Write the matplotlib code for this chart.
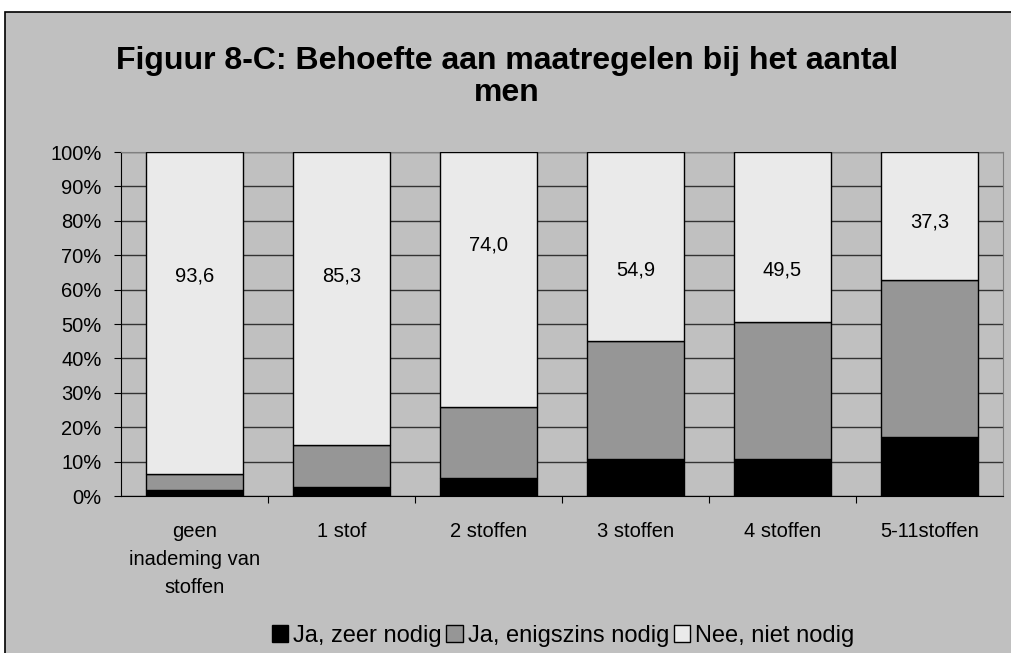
import matplotlib
matplotlib.use("Agg")
import matplotlib.pyplot as plt
from matplotlib.patches import Rectangle, Patch
import numpy as np

plt.rcParams['font.family'] = ['Liberation Sans', 'DejaVu Sans']

# data (percentages)
categories = ["geen\ninademing van\nstoffen", "1 stof", "2 stoffen", "3 stoffen", "4 stoffen", "5-11stoffen"]
ja_zeer = [1.8, 2.6, 5.1, 10.7, 10.7, 17.1]
ja_enigszins = [4.6, 12.1, 20.9, 34.4, 39.8, 45.6]
nee = [93.6, 85.3, 74.0, 54.9, 49.5, 37.3]
nee_labels = ["93,6", "85,3", "74,0", "54,9", "49,5", "37,3"]
series_names = ["Ja, zeer nodig", "Ja, enigszins nodig", "Nee, niet nodig"]

# where the value labels sit (in % of the axis)
label_heights = [64, 64, 73, 65.7, 65.7, 79.7]

bg = "#C0C0C0"
colors = ["#000000", "#969696", "#EAEAEA"]

fig = plt.figure(figsize=(10.11, 6.53), dpi=100)
fig.patch.set_facecolor("white")
# chart area frame
frame = Rectangle((5 / 1011, -0.01), 1.02, 1 - 12 / 653 + 0.01,
                  transform=fig.transFigure, facecolor=bg,
                  edgecolor="black", linewidth=1.2, zorder=-10)
fig.patches.append(frame)

ax = fig.add_axes([121 / 1011, 1 - 496 / 653, (1003 - 121) / 1011, (496 - 152) / 653])
ax.set_facecolor(bg)

x = np.arange(len(categories))
bottom = np.zeros(len(categories))
for vals, col in zip([ja_zeer, ja_enigszins, nee], colors):
    ax.bar(x, vals, bottom=bottom, width=0.66, color=col, edgecolor="black",
           linewidth=1.0, zorder=3)
    bottom += np.array(vals)

for xi, txt, h in zip(x, nee_labels, label_heights):
    ax.text(xi, h, txt, ha="center", va="center", fontsize=14.5, zorder=4)

ax.set_xlim(-0.5, len(categories) - 0.5)
ax.set_ylim(0, 100)
ax.set_yticks(range(0, 101, 10))
ax.set_yticklabels([f"{v}%" for v in range(0, 101, 10)], fontsize=14.5)
ax.yaxis.grid(True, color="#333333", linewidth=1.0, zorder=1)
ax.set_axisbelow(True)

ax.set_xticks(np.arange(0.5, len(categories) - 0.5, 1), minor=False)
ax.set_xticklabels([])
ax.set_xticks(x, minor=True)
ax.set_xticklabels(categories, minor=True, fontsize=14.5, linespacing=1.6)
ax.tick_params(axis="x", which="minor", length=0, pad=19)
ax.tick_params(axis="x", which="major", length=5, color="black")
ax.tick_params(axis="y", length=5, color="black", pad=9)

for side in ["top", "right"]:
    ax.spines[side].set_color("#808080")
ax.spines["left"].set_color("black")
ax.spines["bottom"].set_color("black")

fig.text(507 / 1011, 1 - 77 / 653, "Figuur 8-C: Behoefte aan maatregelen bij het aantal\nmen",
         ha="center", va="center", fontsize=23, fontweight="bold", linespacing=1.05)

handles = [Patch(facecolor=c, edgecolor="black", label=n) for c, n in zip(colors, series_names)]
fig.legend(handles=handles, loc="center", bbox_to_anchor=(563 / 1011, 1 - 636 / 653),
           ncol=3, frameon=False, fontsize=17, handlelength=0.7, handleheight=0.7,
           handletextpad=0.2, columnspacing=0.2, borderpad=0)

fig.savefig("out.png", dpi=100, facecolor=fig.get_facecolor())
